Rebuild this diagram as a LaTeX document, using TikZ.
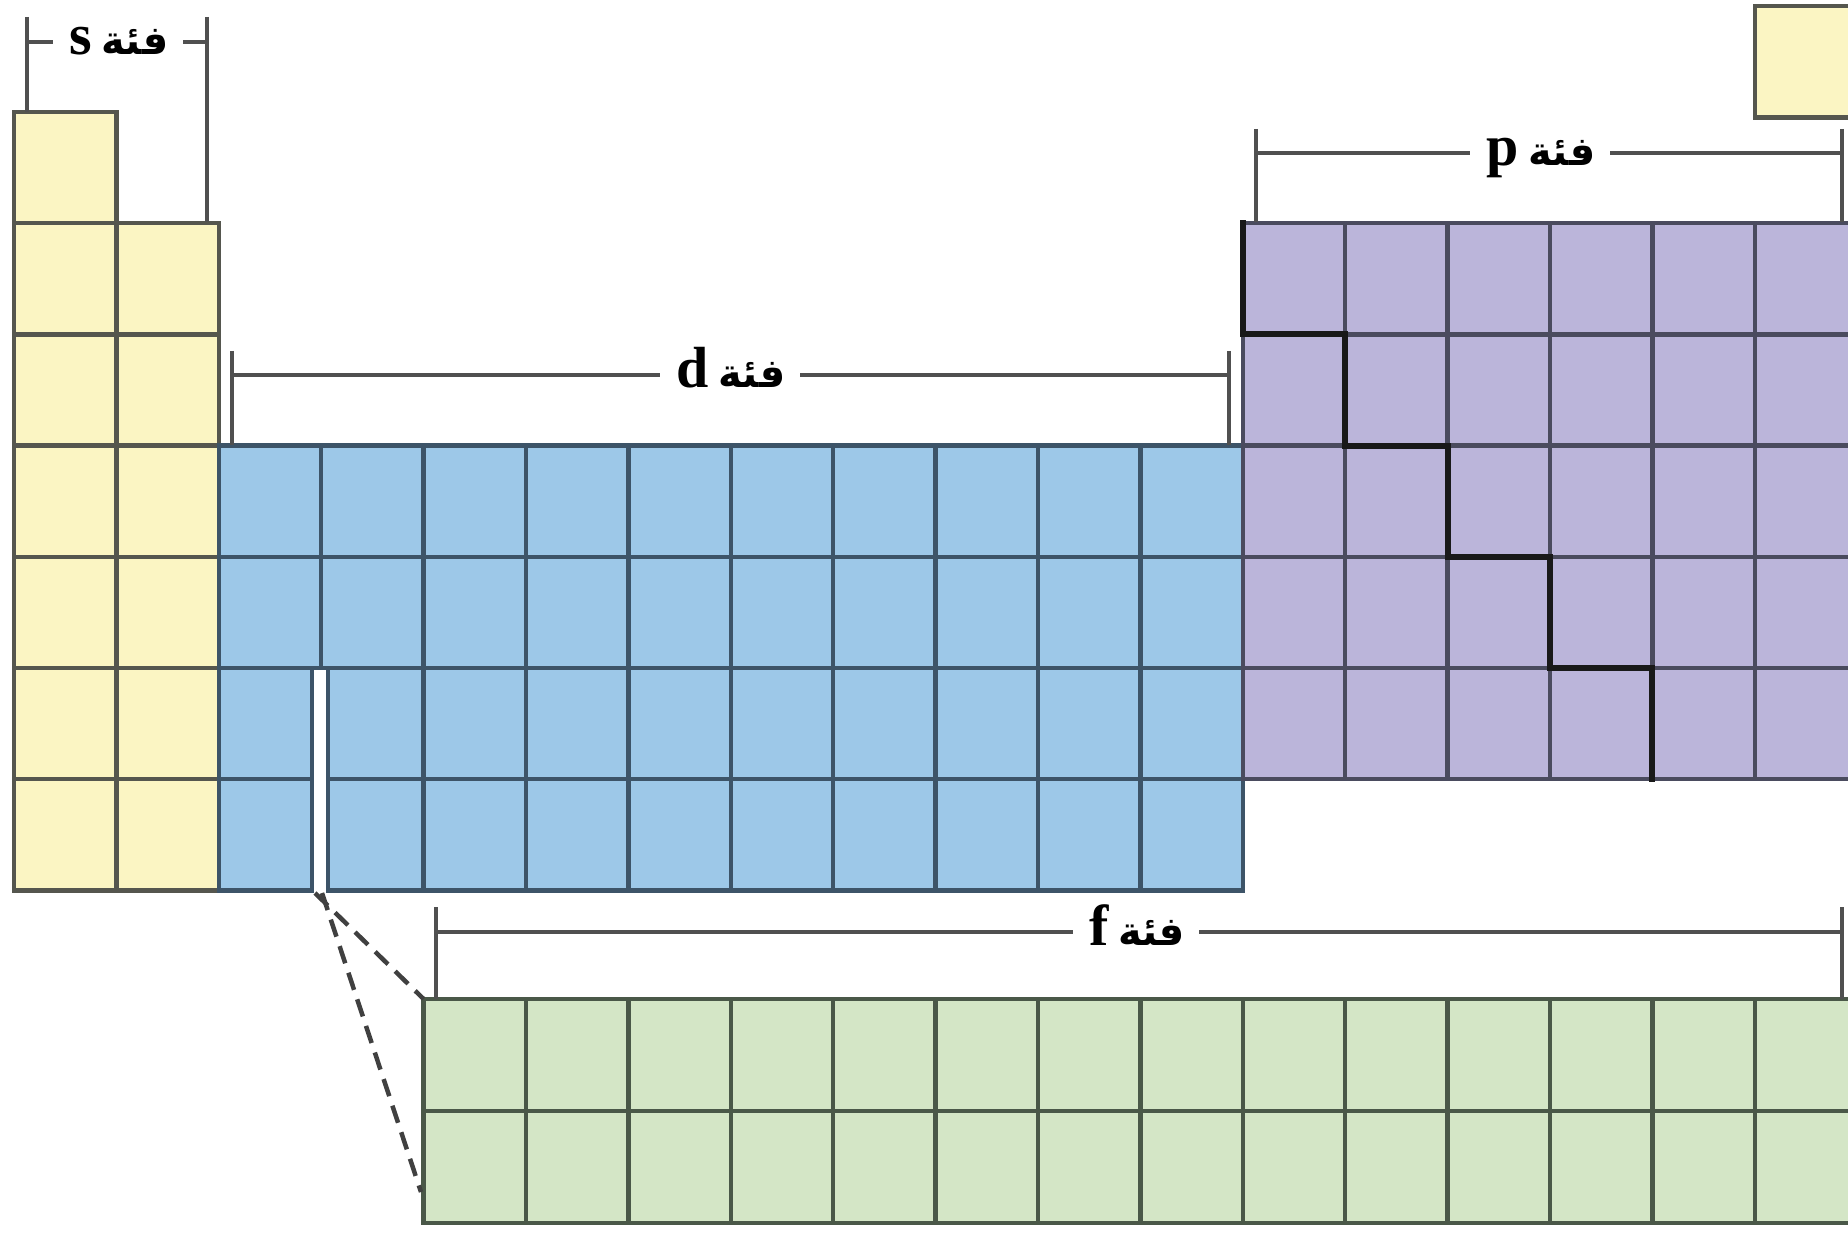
\documentclass[tikz,border=0pt]{standalone}
\usepackage{fontspec}
\setmainfont{Liberation Serif}
\newfontfamily\arab[Script=Arabic]{DejaVu Sans}
\TeXXeTstate=1
\definecolor{cY}{HTML}{FBF5C3}
\definecolor{cB}{HTML}{9DC8E8}
\definecolor{cP}{HTML}{BBB5DA}
\definecolor{cG}{HTML}{D4E6C6}
\definecolor{bY}{HTML}{55564E}
\definecolor{bB}{HTML}{3D5468}
\definecolor{bP}{HTML}{4A4B5E}
\definecolor{bG}{HTML}{4A5848}
\definecolor{brk}{HTML}{505050}
\newcommand{\blk}[1]{{\fontsize{58}{60}\selectfont\beginR{\arab\bfseries\fontsize{40}{50}\selectfont فئة}\,\textbf{#1}\endR}}
\begin{document}
\begin{tikzpicture}[x=1pt,y=-1pt,
  cell/.style={line width=4.5pt},
  ycell/.style={cell,draw=bY,fill=cY},
  bcell/.style={cell,draw=bB,fill=cB},
  pcell/.style={cell,draw=bP,fill=cP},
  gcell/.style={cell,draw=bG,fill=cG},
  bracket/.style={draw=brk,line width=3.5pt},
  lbl/.style={inner sep=0pt,anchor=base},
  stair/.style={draw=black!90,line width=6pt,line cap=rect},
  zoomline/.style={draw=black!75,line width=4.5pt,dash pattern=on 18pt off 10pt}]
\useasboundingbox (0,0) rectangle (1848,1241);
\fill[white] (0,0) rectangle (1848,1241);
\clip (0,0) rectangle (1848,1241);
% s block
\foreach \r in {0,...,6} \draw[ycell] (14,{112+\r*111.2}) rectangle ++(102.4,111.2);
\foreach \r in {1,...,6} \draw[ycell] (116.4,{112+\r*111.2}) rectangle ++(102.4,111.2);
% He
\draw[ycell] (1754.8,6) rectangle ++(102.4,111.5);
% d block
\foreach \c in {2,...,11} \foreach \r in {3,4} \draw[bcell] ({14+\c*102.4},{112+\r*111.2}) rectangle ++(102.4,111.2);
\foreach \c in {4,...,11} \foreach \r in {5,6} \draw[bcell] ({14+\c*102.4},{112+\r*111.2}) rectangle ++(102.4,111.2);
\foreach \r in {5,6} {
  \draw[bcell] (218.8,{112+\r*111.2}) rectangle (312,{223.2+\r*111.2});
  \draw[bcell] (328,{112+\r*111.2}) rectangle (423.6,{223.2+\r*111.2});
}
% p block
\foreach \c in {12,...,17} \foreach \r in {1,...,5} \draw[pcell] ({14+\c*102.4},{112+\r*111.2}) rectangle ++(102.4,111.2);
% staircase
\draw[stair] (1242.8,223.2) -- (1242.8,334.4) -- (1345.2,334.4) -- (1345.2,445.6) -- (1447.6,445.6) -- (1447.6,556.8) -- (1550,556.8) -- (1550,668) -- (1652.4,668) -- (1652.4,779.2);
% f block
\foreach \c in {4,...,17} \foreach \r in {0,1} \draw[gcell] ({14+\c*102.4},{999+\r*112}) rectangle ++(102.4,112);
% zoom lines
\coordinate (gapA) at (315,893);
\coordinate (gapB) at (322,893);
\coordinate (fTL) at (423.6,999);
\coordinate (fBL) at (421,1192);
\draw[zoomline] (gapA) -- (fTL);
\draw[zoomline] (gapB) -- (fBL);
% brackets
\node[lbl] (ls) at (119,55) {\blk{s}};
\coordinate (sL) at (27,42); \coordinate (sR) at (207,42);
\draw[bracket] (27,17) -- (27,112);
\draw[bracket] (207,17) -- (207,222);
\draw[bracket] (sL) -- ([xshift=-16pt]sL -| ls.west);
\draw[bracket] (sR) -- ([xshift=14pt]sR -| ls.east);

\node[lbl] (ld) at (731,388) {\blk{d}};
\coordinate (dL) at (232,375); \coordinate (dR) at (1229,375);
\draw[bracket] (232,351) -- (232,445);
\draw[bracket] (1229,351) -- (1229,445);
\draw[bracket] (dL) -- ([xshift=-16pt]dL -| ld.west);
\draw[bracket] (dR) -- ([xshift=14pt]dR -| ld.east);

\node[lbl] (lp) at (1541,166) {\blk{p}};
\coordinate (pL) at (1256,153); \coordinate (pR) at (1842,153);
\draw[bracket] (1256,129) -- (1256,222);
\draw[bracket] (1842,129) -- (1842,222);
\draw[bracket] (pL) -- ([xshift=-16pt]pL -| lp.west);
\draw[bracket] (pR) -- ([xshift=14pt]pR -| lp.east);

\node[lbl] (lf) at (1137,945) {\blk{f}};
\coordinate (fL) at (436,932); \coordinate (fR) at (1842,932);
\draw[bracket] (436,907) -- (436,999);
\draw[bracket] (1842,907) -- (1842,999);
\draw[bracket] (fL) -- ([xshift=-16pt]fL -| lf.west);
\draw[bracket] (fR) -- ([xshift=14pt]fR -| lf.east);
\end{tikzpicture}
\end{document}
